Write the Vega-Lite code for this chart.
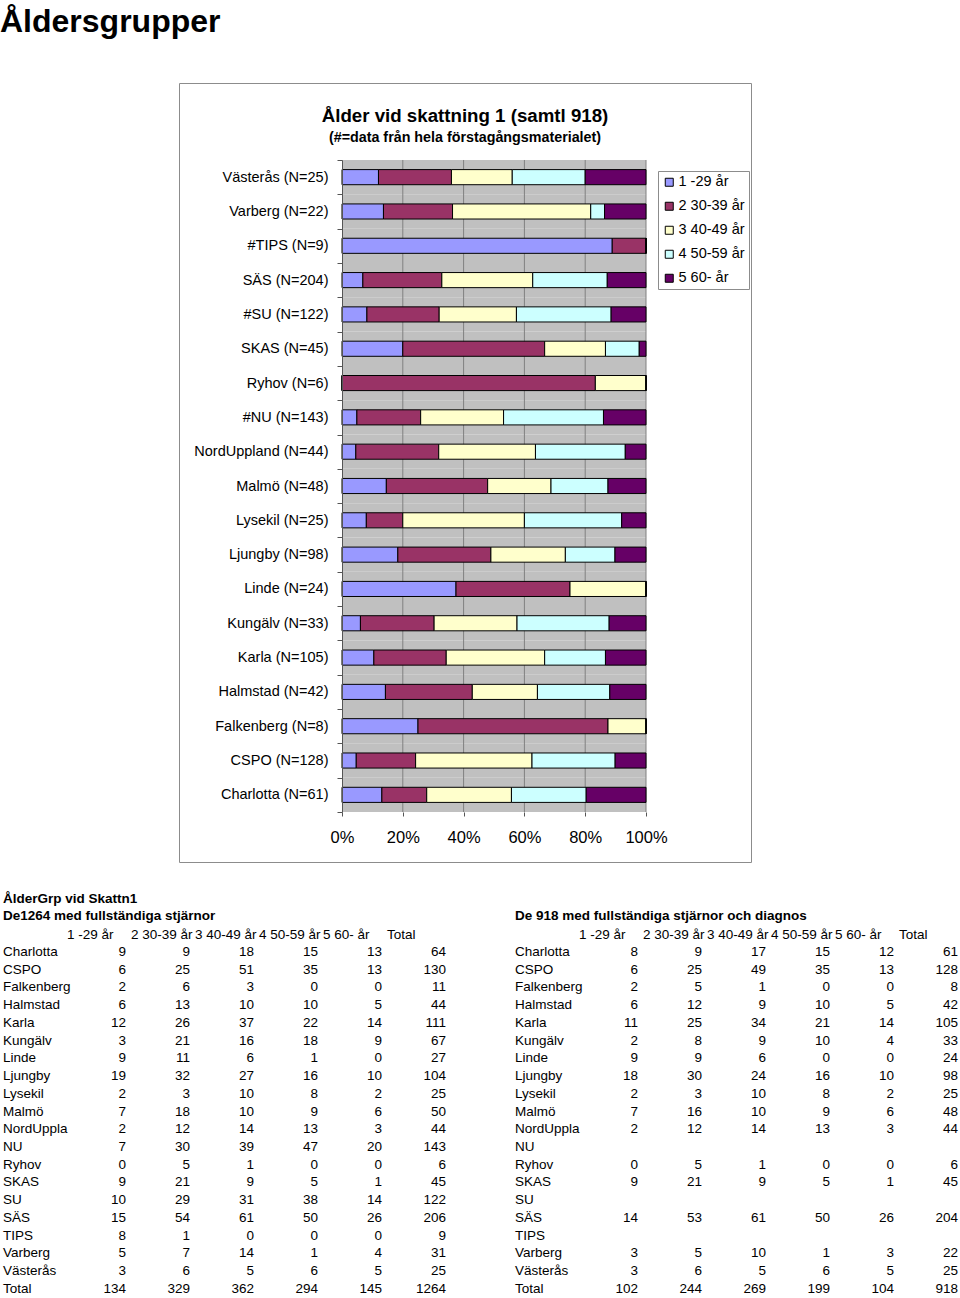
{
  "$schema": "https://vega.github.io/schema/vega-lite/v6.json",
  "padding": {"top": 5, "left": 0, "right": 0, "bottom": 0},
  "background": "white",
  "title": {"text": "Åldersgrupper", "anchor": "start", "frame": "bounds", "fontSize": 32, "font": "Liberation Sans", "fontWeight": "bold", "color": "#000", "offset": 36},
  "datasets": {
    "chart": [
      {"label": "Västerås (N=25)", "1 -29 år": 3, "2 30-39 år": 6, "3 40-49 år": 5, "4 50-59 år": 6, "5 60- år": 5},
      {"label": "Varberg (N=22)", "1 -29 år": 3, "2 30-39 år": 5, "3 40-49 år": 10, "4 50-59 år": 1, "5 60- år": 3},
      {"label": "#TIPS (N=9)", "1 -29 år": 8, "2 30-39 år": 1, "3 40-49 år": 0, "4 50-59 år": 0, "5 60- år": 0},
      {"label": "SÄS (N=204)", "1 -29 år": 14, "2 30-39 år": 53, "3 40-49 år": 61, "4 50-59 år": 50, "5 60- år": 26},
      {"label": "#SU (N=122)", "1 -29 år": 10, "2 30-39 år": 29, "3 40-49 år": 31, "4 50-59 år": 38, "5 60- år": 14},
      {"label": "SKAS (N=45)", "1 -29 år": 9, "2 30-39 år": 21, "3 40-49 år": 9, "4 50-59 år": 5, "5 60- år": 1},
      {"label": "Ryhov (N=6)", "1 -29 år": 0, "2 30-39 år": 5, "3 40-49 år": 1, "4 50-59 år": 0, "5 60- år": 0},
      {"label": "#NU (N=143)", "1 -29 år": 7, "2 30-39 år": 30, "3 40-49 år": 39, "4 50-59 år": 47, "5 60- år": 20},
      {"label": "NordUppland (N=44)", "1 -29 år": 2, "2 30-39 år": 12, "3 40-49 år": 14, "4 50-59 år": 13, "5 60- år": 3},
      {"label": "Malmö (N=48)", "1 -29 år": 7, "2 30-39 år": 16, "3 40-49 år": 10, "4 50-59 år": 9, "5 60- år": 6},
      {"label": "Lysekil (N=25)", "1 -29 år": 2, "2 30-39 år": 3, "3 40-49 år": 10, "4 50-59 år": 8, "5 60- år": 2},
      {"label": "Ljungby (N=98)", "1 -29 år": 18, "2 30-39 år": 30, "3 40-49 år": 24, "4 50-59 år": 16, "5 60- år": 10},
      {"label": "Linde (N=24)", "1 -29 år": 9, "2 30-39 år": 9, "3 40-49 år": 6, "4 50-59 år": 0, "5 60- år": 0},
      {"label": "Kungälv (N=33)", "1 -29 år": 2, "2 30-39 år": 8, "3 40-49 år": 9, "4 50-59 år": 10, "5 60- år": 4},
      {"label": "Karla (N=105)", "1 -29 år": 11, "2 30-39 år": 25, "3 40-49 år": 34, "4 50-59 år": 21, "5 60- år": 14},
      {"label": "Halmstad (N=42)", "1 -29 år": 6, "2 30-39 år": 12, "3 40-49 år": 9, "4 50-59 år": 10, "5 60- år": 5},
      {"label": "Falkenberg (N=8)", "1 -29 år": 2, "2 30-39 år": 5, "3 40-49 år": 1, "4 50-59 år": 0, "5 60- år": 0},
      {"label": "CSPO (N=128)", "1 -29 år": 6, "2 30-39 år": 25, "3 40-49 år": 49, "4 50-59 år": 35, "5 60- år": 13},
      {"label": "Charlotta (N=61)", "1 -29 år": 8, "2 30-39 år": 9, "3 40-49 år": 17, "4 50-59 år": 15, "5 60- år": 12}
    ],
    "grid": [{"g": 0.2}, {"g": 0.4}, {"g": 0.6}, {"g": 0.8}, {"g": 1}],
    "t1264": [
      {"name": "Charlotta", "1 -29 år": 9, "2 30-39 år": 9, "3 40-49 år": 18, "4 50-59 år": 15, "5 60- år": 13, "Total": 64},
      {"name": "CSPO", "1 -29 år": 6, "2 30-39 år": 25, "3 40-49 år": 51, "4 50-59 år": 35, "5 60- år": 13, "Total": 130},
      {"name": "Falkenberg", "1 -29 år": 2, "2 30-39 år": 6, "3 40-49 år": 3, "4 50-59 år": 0, "5 60- år": 0, "Total": 11},
      {"name": "Halmstad", "1 -29 år": 6, "2 30-39 år": 13, "3 40-49 år": 10, "4 50-59 år": 10, "5 60- år": 5, "Total": 44},
      {"name": "Karla", "1 -29 år": 12, "2 30-39 år": 26, "3 40-49 år": 37, "4 50-59 år": 22, "5 60- år": 14, "Total": 111},
      {"name": "Kungälv", "1 -29 år": 3, "2 30-39 år": 21, "3 40-49 år": 16, "4 50-59 år": 18, "5 60- år": 9, "Total": 67},
      {"name": "Linde", "1 -29 år": 9, "2 30-39 år": 11, "3 40-49 år": 6, "4 50-59 år": 1, "5 60- år": 0, "Total": 27},
      {"name": "Ljungby", "1 -29 år": 19, "2 30-39 år": 32, "3 40-49 år": 27, "4 50-59 år": 16, "5 60- år": 10, "Total": 104},
      {"name": "Lysekil", "1 -29 år": 2, "2 30-39 år": 3, "3 40-49 år": 10, "4 50-59 år": 8, "5 60- år": 2, "Total": 25},
      {"name": "Malmö", "1 -29 år": 7, "2 30-39 år": 18, "3 40-49 år": 10, "4 50-59 år": 9, "5 60- år": 6, "Total": 50},
      {"name": "NordUppla", "1 -29 år": 2, "2 30-39 år": 12, "3 40-49 år": 14, "4 50-59 år": 13, "5 60- år": 3, "Total": 44},
      {"name": "NU", "1 -29 år": 7, "2 30-39 år": 30, "3 40-49 år": 39, "4 50-59 år": 47, "5 60- år": 20, "Total": 143},
      {"name": "Ryhov", "1 -29 år": 0, "2 30-39 år": 5, "3 40-49 år": 1, "4 50-59 år": 0, "5 60- år": 0, "Total": 6},
      {"name": "SKAS", "1 -29 år": 9, "2 30-39 år": 21, "3 40-49 år": 9, "4 50-59 år": 5, "5 60- år": 1, "Total": 45},
      {"name": "SU", "1 -29 år": 10, "2 30-39 år": 29, "3 40-49 år": 31, "4 50-59 år": 38, "5 60- år": 14, "Total": 122},
      {"name": "SÄS", "1 -29 år": 15, "2 30-39 år": 54, "3 40-49 år": 61, "4 50-59 år": 50, "5 60- år": 26, "Total": 206},
      {"name": "TIPS", "1 -29 år": 8, "2 30-39 år": 1, "3 40-49 år": 0, "4 50-59 år": 0, "5 60- år": 0, "Total": 9},
      {"name": "Varberg", "1 -29 år": 5, "2 30-39 år": 7, "3 40-49 år": 14, "4 50-59 år": 1, "5 60- år": 4, "Total": 31},
      {"name": "Västerås", "1 -29 år": 3, "2 30-39 år": 6, "3 40-49 år": 5, "4 50-59 år": 6, "5 60- år": 5, "Total": 25},
      {"name": "Total", "1 -29 år": 134, "2 30-39 år": 329, "3 40-49 år": 362, "4 50-59 år": 294, "5 60- år": 145, "Total": 1264}
    ],
    "t918": [
      {"name": "Charlotta", "1 -29 år": 8, "2 30-39 år": 9, "3 40-49 år": 17, "4 50-59 år": 15, "5 60- år": 12, "Total": 61},
      {"name": "CSPO", "1 -29 år": 6, "2 30-39 år": 25, "3 40-49 år": 49, "4 50-59 år": 35, "5 60- år": 13, "Total": 128},
      {"name": "Falkenberg", "1 -29 år": 2, "2 30-39 år": 5, "3 40-49 år": 1, "4 50-59 år": 0, "5 60- år": 0, "Total": 8},
      {"name": "Halmstad", "1 -29 år": 6, "2 30-39 år": 12, "3 40-49 år": 9, "4 50-59 år": 10, "5 60- år": 5, "Total": 42},
      {"name": "Karla", "1 -29 år": 11, "2 30-39 år": 25, "3 40-49 år": 34, "4 50-59 år": 21, "5 60- år": 14, "Total": 105},
      {"name": "Kungälv", "1 -29 år": 2, "2 30-39 år": 8, "3 40-49 år": 9, "4 50-59 år": 10, "5 60- år": 4, "Total": 33},
      {"name": "Linde", "1 -29 år": 9, "2 30-39 år": 9, "3 40-49 år": 6, "4 50-59 år": 0, "5 60- år": 0, "Total": 24},
      {"name": "Ljungby", "1 -29 år": 18, "2 30-39 år": 30, "3 40-49 år": 24, "4 50-59 år": 16, "5 60- år": 10, "Total": 98},
      {"name": "Lysekil", "1 -29 år": 2, "2 30-39 år": 3, "3 40-49 år": 10, "4 50-59 år": 8, "5 60- år": 2, "Total": 25},
      {"name": "Malmö", "1 -29 år": 7, "2 30-39 år": 16, "3 40-49 år": 10, "4 50-59 år": 9, "5 60- år": 6, "Total": 48},
      {"name": "NordUppla", "1 -29 år": 2, "2 30-39 år": 12, "3 40-49 år": 14, "4 50-59 år": 13, "5 60- år": 3, "Total": 44},
      {"name": "NU"},
      {"name": "Ryhov", "1 -29 år": 0, "2 30-39 år": 5, "3 40-49 år": 1, "4 50-59 år": 0, "5 60- år": 0, "Total": 6},
      {"name": "SKAS", "1 -29 år": 9, "2 30-39 år": 21, "3 40-49 år": 9, "4 50-59 år": 5, "5 60- år": 1, "Total": 45},
      {"name": "SU"},
      {"name": "SÄS", "1 -29 år": 14, "2 30-39 år": 53, "3 40-49 år": 61, "4 50-59 år": 50, "5 60- år": 26, "Total": 204},
      {"name": "TIPS"},
      {"name": "Varberg", "1 -29 år": 3, "2 30-39 år": 5, "3 40-49 år": 10, "4 50-59 år": 1, "5 60- år": 3, "Total": 22},
      {"name": "Västerås", "1 -29 år": 3, "2 30-39 år": 6, "3 40-49 år": 5, "4 50-59 år": 6, "5 60- år": 5, "Total": 25},
      {"name": "Total", "1 -29 år": 102, "2 30-39 år": 244, "3 40-49 år": 269, "4 50-59 år": 199, "5 60- år": 104, "Total": 918}
    ]
  },
  "spacing": 29,
  "vconcat": [
    {
      "spacing": 0,
      "hconcat": [
        {
          "width": 178, "height": 10,
          "data": {"values": [{}]},
          "mark": {"type": "point", "opacity": 0},
          "encoding": {}
        },
        {
          "width": 572, "height": 779,
          "view": {"stroke": "#8c8c8c", "strokeWidth": 1},
          "title": {"text": "Ålder vid skattning 1 (samtl 918)", "subtitle": "(#=data från hela förstagångsmaterialet)", "anchor": "middle", "frame": "group", "font": "Liberation Sans", "fontSize": 18.7, "fontWeight": "bold", "color": "#000", "subtitleFont": "Liberation Sans", "subtitleFontSize": 14.3, "subtitleFontWeight": "bold", "subtitleColor": "#000", "subtitlePadding": 5, "offset": -70},
          "layer": [
            {
              "data": {"name": "chart"},
              "mark": {"type": "rect", "fill": "#c0c0c0"},
              "encoding": {
                "y": {
                  "field": "label", "type": "nominal",
                  "scale": {"domain": ["Västerås (N=25)", "Varberg (N=22)", "#TIPS (N=9)", "SÄS (N=204)", "#SU (N=122)", "SKAS (N=45)", "Ryhov (N=6)", "#NU (N=143)", "NordUppland (N=44)", "Malmö (N=48)", "Lysekil (N=25)", "Ljungby (N=98)", "Linde (N=24)", "Kungälv (N=33)", "Karla (N=105)", "Halmstad (N=42)", "Falkenberg (N=8)", "CSPO (N=128)", "Charlotta (N=61)"], "range": [77, 729], "paddingInner": 0, "paddingOuter": 0},
                  "axis": {"title": null, "orient": "left", "offset": -163, "zindex": 1, "domain": true, "domainColor": "#555", "ticks": true, "tickBand": "extent", "tickSize": 5, "tickColor": "#555", "labelFont": "Liberation Sans", "labelFontSize": 14.5, "labelColor": "#000", "labelPadding": 9, "labelLimit": 0, "grid": false}
                },
                "x": {
                  "datum": 0, "type": "quantitative",
                  "scale": {"domain": [-0.53618, 1.34539], "nice": false, "zero": false},
                  "axis": {"title": null, "orient": "bottom", "offset": -50, "zindex": 1, "values": [0, 0.2, 0.4, 0.6, 0.8, 1], "format": ".0%", "domain": false, "ticks": true, "tickSize": 4, "tickColor": "#555", "labelFont": "Liberation Sans", "labelFontSize": 16.5, "labelColor": "#000", "labelBaseline": "middle", "labelPadding": 21, "labelFlush": false, "grid": false}
                },
                "x2": {"datum": 1}
              }
            },
            {
              "data": {"name": "grid"},
              "mark": {"type": "rule", "color": "#808080", "strokeWidth": 1, "yOffset": -17.16, "y2Offset": 17.16},
              "encoding": {
                "x": {
                  "field": "g", "type": "quantitative",
                  "scale": {"domain": [-0.53618, 1.34539], "nice": false, "zero": false},
                  "axis": {"title": null, "orient": "bottom", "offset": -50, "zindex": 1, "values": [0, 0.2, 0.4, 0.6, 0.8, 1], "format": ".0%", "domain": false, "ticks": true, "tickSize": 4, "tickColor": "#555", "labelFont": "Liberation Sans", "labelFontSize": 16.5, "labelColor": "#000", "labelBaseline": "middle", "labelPadding": 21, "labelFlush": false, "grid": false}
                },
                "y": {
                  "datum": "Västerås (N=25)", "type": "nominal",
                  "scale": {"domain": ["Västerås (N=25)", "Varberg (N=22)", "#TIPS (N=9)", "SÄS (N=204)", "#SU (N=122)", "SKAS (N=45)", "Ryhov (N=6)", "#NU (N=143)", "NordUppland (N=44)", "Malmö (N=48)", "Lysekil (N=25)", "Ljungby (N=98)", "Linde (N=24)", "Kungälv (N=33)", "Karla (N=105)", "Halmstad (N=42)", "Falkenberg (N=8)", "CSPO (N=128)", "Charlotta (N=61)"], "range": [77, 729], "paddingInner": 0, "paddingOuter": 0},
                  "axis": {"title": null, "orient": "left", "offset": -163, "zindex": 1, "domain": true, "domainColor": "#555", "ticks": true, "tickBand": "extent", "tickSize": 5, "tickColor": "#555", "labelFont": "Liberation Sans", "labelFontSize": 14.5, "labelColor": "#000", "labelPadding": 9, "labelLimit": 0, "grid": false}
                },
                "y2": {"datum": "Charlotta (N=61)"}
              }
            },
            {
              "data": {"name": "chart"},
              "transform": [{"fold": ["1 -29 år", "2 30-39 år", "3 40-49 år", "4 50-59 år", "5 60- år"], "as": ["age", "n"]}],
              "mark": {"type": "bar", "stroke": "#000", "strokeWidth": 1, "height": {"band": 0.44}},
              "encoding": {
                "y": {
                  "field": "label", "type": "nominal",
                  "scale": {"domain": ["Västerås (N=25)", "Varberg (N=22)", "#TIPS (N=9)", "SÄS (N=204)", "#SU (N=122)", "SKAS (N=45)", "Ryhov (N=6)", "#NU (N=143)", "NordUppland (N=44)", "Malmö (N=48)", "Lysekil (N=25)", "Ljungby (N=98)", "Linde (N=24)", "Kungälv (N=33)", "Karla (N=105)", "Halmstad (N=42)", "Falkenberg (N=8)", "CSPO (N=128)", "Charlotta (N=61)"], "range": [77, 729], "paddingInner": 0, "paddingOuter": 0},
                  "axis": {"title": null, "orient": "left", "offset": -163, "zindex": 1, "domain": true, "domainColor": "#555", "ticks": true, "tickBand": "extent", "tickSize": 5, "tickColor": "#555", "labelFont": "Liberation Sans", "labelFontSize": 14.5, "labelColor": "#000", "labelPadding": 9, "labelLimit": 0, "grid": false}
                },
                "x": {
                  "field": "n", "type": "quantitative", "stack": "normalize",
                  "scale": {"domain": [-0.53618, 1.34539], "nice": false, "zero": false},
                  "axis": {"title": null, "orient": "bottom", "offset": -50, "zindex": 1, "values": [0, 0.2, 0.4, 0.6, 0.8, 1], "format": ".0%", "domain": false, "ticks": true, "tickSize": 4, "tickColor": "#555", "labelFont": "Liberation Sans", "labelFontSize": 16.5, "labelColor": "#000", "labelBaseline": "middle", "labelPadding": 21, "labelFlush": false, "grid": false}
                },
                "color": {
                  "field": "age", "type": "nominal",
                  "scale": {"domain": ["1 -29 år", "2 30-39 år", "3 40-49 år", "4 50-59 år", "5 60- år"], "range": ["#9999ff", "#993366", "#ffffcc", "#ccffff", "#660066"]},
                  "legend": {"title": null, "orient": "none", "legendX": 658, "legendY": 88, "direction": "vertical", "strokeColor": "#8c8c8c", "fillColor": "#ffffff", "padding": 4, "symbolType": "square", "symbolSize": 64, "symbolStrokeColor": "#000", "symbolStrokeWidth": 1, "symbolOpacity": 1, "labelFont": "Liberation Sans", "labelFontSize": 14.5, "labelColor": "#000", "labelOffset": 2, "rowPadding": 9, "labelLimit": 0}
                },
                "order": {"field": "age"}
              }
            }
          ]
        }
      ]
    },
    {
      "spacing": 64,
      "hconcat": [
        {
          "data": {"name": "t1264"},
          "transform": [{"fold": ["name", "1 -29 år", "2 30-39 år", "3 40-49 år", "4 50-59 år", "5 60- år", "Total"], "as": ["col", "v"]}],
          "width": {"step": 64},
          "height": {"step": 17.74},
          "title": {"text": "ÅlderGrp vid Skattn1", "subtitle": "De1264 med fullständiga stjärnor", "anchor": "start", "frame": "group", "dx": 3, "font": "Liberation Sans", "fontSize": 13.5, "fontWeight": "bold", "color": "#000", "subtitleFont": "Liberation Sans", "subtitleFontSize": 13.5, "subtitleFontWeight": "bold", "subtitleColor": "#000", "subtitlePadding": 3, "offset": 5},
          "layer": [
            {
              "transform": [{"filter": "datum.col == 'name'"}],
              "mark": {"type": "text", "align": "left", "baseline": "middle", "dx": 3, "font": "Liberation Sans", "fontSize": 13.5, "color": "#000"},
              "encoding": {
                "y": {"field": "name", "type": "nominal", "axis": null, "scale": {"type": "band", "domain": ["Charlotta", "CSPO", "Falkenberg", "Halmstad", "Karla", "Kungälv", "Linde", "Ljungby", "Lysekil", "Malmö", "NordUppla", "NU", "Ryhov", "SKAS", "SU", "SÄS", "TIPS", "Varberg", "Västerås", "Total"], "paddingInner": 0, "paddingOuter": 0}},
                "x": {"field": "col", "type": "nominal", "bandPosition": 0,
                  "scale": {"type": "band", "domain": ["name", "1 -29 år", "2 30-39 år", "3 40-49 år", "4 50-59 år", "5 60- år", "Total"], "paddingInner": 0, "paddingOuter": 0},
                  "axis": {"title": null, "orient": "top", "domain": false, "ticks": false, "tickSize": 0, "labelAlign": "left", "labelOffset": -29, "labelAngle": 0, "labelBaseline": "middle", "labelPadding": 9, "labelFont": "Liberation Sans", "labelFontSize": 13.5, "labelColor": "#000", "labelLimit": 0, "labelExpr": "datum.value == 'name' ? '' : datum.value"}},
                "text": {"field": "v", "type": "nominal"}
              }
            },
            {
              "transform": [{"filter": "datum.col != 'name' && isValid(datum.v)"}],
              "mark": {"type": "text", "align": "right", "baseline": "middle", "dx": -2, "font": "Liberation Sans", "fontSize": 13.5, "color": "#000"},
              "encoding": {
                "y": {"field": "name", "type": "nominal", "axis": null, "scale": {"type": "band", "domain": ["Charlotta", "CSPO", "Falkenberg", "Halmstad", "Karla", "Kungälv", "Linde", "Ljungby", "Lysekil", "Malmö", "NordUppla", "NU", "Ryhov", "SKAS", "SU", "SÄS", "TIPS", "Varberg", "Västerås", "Total"], "paddingInner": 0, "paddingOuter": 0}},
                "x": {"field": "col", "type": "nominal", "bandPosition": 1,
                  "scale": {"type": "band", "domain": ["name", "1 -29 år", "2 30-39 år", "3 40-49 år", "4 50-59 år", "5 60- år", "Total"], "paddingInner": 0, "paddingOuter": 0},
                  "axis": {"title": null, "orient": "top", "domain": false, "ticks": false, "tickSize": 0, "labelAlign": "left", "labelOffset": -29, "labelAngle": 0, "labelBaseline": "middle", "labelPadding": 9, "labelFont": "Liberation Sans", "labelFontSize": 13.5, "labelColor": "#000", "labelLimit": 0, "labelExpr": "datum.value == 'name' ? '' : datum.value"}},
                "text": {"field": "v", "type": "nominal"}
              }
            }
          ]
        },
        {
          "data": {"name": "t918"},
          "transform": [{"fold": ["name", "1 -29 år", "2 30-39 år", "3 40-49 år", "4 50-59 år", "5 60- år", "Total"], "as": ["col", "v"]}],
          "width": {"step": 64},
          "height": {"step": 17.74},
          "title": {"text": " ", "subtitle": "De 918 med fullständiga stjärnor och diagnos", "anchor": "start", "frame": "group", "dx": 3, "font": "Liberation Sans", "fontSize": 13.5, "fontWeight": "bold", "color": "#000", "subtitleFont": "Liberation Sans", "subtitleFontSize": 13.5, "subtitleFontWeight": "bold", "subtitleColor": "#000", "subtitlePadding": 3, "offset": 5},
          "layer": [
            {
              "transform": [{"filter": "datum.col == 'name'"}],
              "mark": {"type": "text", "align": "left", "baseline": "middle", "dx": 3, "font": "Liberation Sans", "fontSize": 13.5, "color": "#000"},
              "encoding": {
                "y": {"field": "name", "type": "nominal", "axis": null, "scale": {"type": "band", "domain": ["Charlotta", "CSPO", "Falkenberg", "Halmstad", "Karla", "Kungälv", "Linde", "Ljungby", "Lysekil", "Malmö", "NordUppla", "NU", "Ryhov", "SKAS", "SU", "SÄS", "TIPS", "Varberg", "Västerås", "Total"], "paddingInner": 0, "paddingOuter": 0}},
                "x": {"field": "col", "type": "nominal", "bandPosition": 0,
                  "scale": {"type": "band", "domain": ["name", "1 -29 år", "2 30-39 år", "3 40-49 år", "4 50-59 år", "5 60- år", "Total"], "paddingInner": 0, "paddingOuter": 0},
                  "axis": {"title": null, "orient": "top", "domain": false, "ticks": false, "tickSize": 0, "labelAlign": "left", "labelOffset": -29, "labelAngle": 0, "labelBaseline": "middle", "labelPadding": 9, "labelFont": "Liberation Sans", "labelFontSize": 13.5, "labelColor": "#000", "labelLimit": 0, "labelExpr": "datum.value == 'name' ? '' : datum.value"}},
                "text": {"field": "v", "type": "nominal"}
              }
            },
            {
              "transform": [{"filter": "datum.col != 'name' && isValid(datum.v)"}],
              "mark": {"type": "text", "align": "right", "baseline": "middle", "dx": -2, "font": "Liberation Sans", "fontSize": 13.5, "color": "#000"},
              "encoding": {
                "y": {"field": "name", "type": "nominal", "axis": null, "scale": {"type": "band", "domain": ["Charlotta", "CSPO", "Falkenberg", "Halmstad", "Karla", "Kungälv", "Linde", "Ljungby", "Lysekil", "Malmö", "NordUppla", "NU", "Ryhov", "SKAS", "SU", "SÄS", "TIPS", "Varberg", "Västerås", "Total"], "paddingInner": 0, "paddingOuter": 0}},
                "x": {"field": "col", "type": "nominal", "bandPosition": 1,
                  "scale": {"type": "band", "domain": ["name", "1 -29 år", "2 30-39 år", "3 40-49 år", "4 50-59 år", "5 60- år", "Total"], "paddingInner": 0, "paddingOuter": 0},
                  "axis": {"title": null, "orient": "top", "domain": false, "ticks": false, "tickSize": 0, "labelAlign": "left", "labelOffset": -29, "labelAngle": 0, "labelBaseline": "middle", "labelPadding": 9, "labelFont": "Liberation Sans", "labelFontSize": 13.5, "labelColor": "#000", "labelLimit": 0, "labelExpr": "datum.value == 'name' ? '' : datum.value"}},
                "text": {"field": "v", "type": "nominal"}
              }
            }
          ]
        }
      ]
    }
  ],
  "config": {
    "view": {"stroke": null},
    "font": "Liberation Sans",
    "axis": {"labelColor": "#000"}
  }
}
